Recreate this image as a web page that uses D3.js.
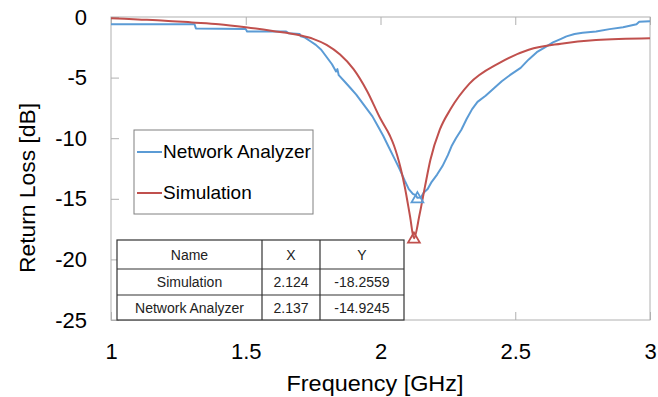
<!DOCTYPE html>
<html>
<head>
<style>
  body { margin: 0; background: #fff; }
  svg { font-family: "Liberation Sans", Arial, sans-serif; }
</style>
</head>
<body>
<svg id="chart" width="658" height="397"></svg>
<script src="https://cdn.jsdelivr.net/npm/d3@7"></script>
<script>
// data
let xTicks = [1, 1.5, 2, 2.5, 3]
let yTicks = [0, -5, -10, -15, -20, -25]

let simFreq = [1.0, 1.1, 1.2, 1.3, 1.4, 1.5, 1.6, 1.7, 1.75, 1.8, 1.85, 1.9, 1.95, 2.0, 2.035, 2.05, 2.075, 2.09, 2.11, 2.124,
  2.145, 2.165, 2.185, 2.22, 2.26, 2.33, 2.44, 2.55, 2.67, 2.8, 3.0]
let simLoss = [-0.1, -0.2, -0.3, -0.45, -0.6, -0.85, -1.15, -1.5, -1.8, -2.3, -3.1, -4.3, -6.1, -8.4, -9.8, -10.6, -12.5, -14, -16.5, -18.26,
  -16.3, -14, -11.8, -9.3, -7.6, -5.5, -3.8, -2.7, -2.2, -1.9, -1.75]

let naFreq = [1.0, 1.31, 1.315, 1.5, 1.505, 1.65, 1.66, 1.70, 1.705, 1.72, 1.74, 1.76, 1.78, 1.80, 1.82, 1.835, 1.84, 1.845, 1.87, 1.89,
  1.91, 1.93, 1.95, 1.97, 1.99, 2.01, 2.03, 2.05, 2.07, 2.09, 2.105, 2.12, 2.13, 2.137, 2.15, 2.16, 2.175, 2.19, 2.21, 2.23,
  2.25, 2.265, 2.28, 2.30, 2.32, 2.34, 2.36, 2.39, 2.42, 2.45, 2.48, 2.52, 2.55, 2.58, 2.61, 2.64, 2.67, 2.69, 2.72, 2.75,
  2.80, 2.85, 2.90, 2.95, 2.96, 3.0]
let naLoss = [-0.6, -0.6, -0.95, -1.0, -1.2, -1.2, -1.35, -1.4, -1.6, -1.7, -2.0, -2.3, -2.7, -3.3, -3.9, -4.5, -4.3, -4.8, -5.4, -5.9,
  -6.4, -7.0, -7.6, -8.2, -9.0, -9.8, -10.7, -11.6, -12.5, -13.5, -14.2, -14.6, -14.7, -14.92, -14.9, -14.5, -14.2, -13.6, -13.0, -12.3,
  -11.4, -10.6, -10.0, -9.3, -8.4, -7.6, -7.0, -6.5, -5.9, -5.3, -4.8, -4.2, -3.5, -2.9, -2.5, -2.1, -1.8, -1.6, -1.4, -1.3,
  -1.2, -1.0, -0.85, -0.6, -0.4, -0.35]

let markerNames = ["Simulation", "Network Analyzer"]
let markerX = [2.124, 2.137]
let markerY = [-18.2559, -14.9245]

let blue = "#5b9bd5"
let red = "#c0504d"

let svg = d3.select("#chart")
let pLeft = 111, pRight = 650, pTop = 17, pBottom = 320

let x = d3.scaleLinear().domain([1, 3]).range([pLeft, pRight])
let y = d3.scaleLinear().domain([0, -25]).range([pTop, pBottom])

// frame
svg.append("rect").attr("x", pLeft).attr("y", pTop).attr("width", pRight - pLeft).attr("height", pBottom - pTop)
  .attr("fill", "none").attr("stroke", "#b0b0b0").attr("stroke-width", 1)

let yAxis = d3.axisLeft(y).tickValues(yTicks).tickSize(-8).tickPadding(24).tickFormat(d => d)
svg.append("g").attr("transform", `translate(${pLeft},0)`).call(yAxis)
  .call(g => g.select(".domain").remove())
  .call(g => g.selectAll("line").attr("stroke", "#b0b0b0"))
  .call(g => g.selectAll("text").attr("font-size", 22).attr("fill", "#000").attr("font-family", "Liberation Sans, Arial"))

let xAxis = d3.axisBottom(x).tickValues(xTicks).tickSize(-8).tickPadding(23).tickFormat(d => d)
svg.append("g").attr("transform", `translate(0,${pBottom})`).call(xAxis)
  .call(g => g.select(".domain").remove())
  .call(g => g.selectAll("line").attr("stroke", "#b0b0b0"))
  .call(g => g.selectAll("text").attr("font-size", 22).attr("fill", "#000").attr("font-family", "Liberation Sans, Arial"))

// top ticks
svg.append("g").attr("transform", `translate(0,${pTop})`).call(d3.axisTop(x).tickValues(xTicks).tickSize(-8).tickFormat(""))
  .call(g => g.select(".domain").remove())
  .call(g => g.selectAll("line").attr("stroke", "#b0b0b0"))

svg.append("text").text("Frequency [GHz]").attr("x", 375).attr("y", 391)
  .attr("text-anchor", "middle").attr("font-size", 22).attr("textLength", 177).attr("lengthAdjust", "spacingAndGlyphs")
svg.append("text").text("Return Loss [dB]").attr("transform", "translate(35,188) rotate(-90)")
  .attr("text-anchor", "middle").attr("font-size", 22).attr("textLength", 170).attr("lengthAdjust", "spacingAndGlyphs")

let line = d3.line().x(d => x(d[0])).y(d => y(d[1]))
let naPts = naFreq.map((f, i) => [f, naLoss[i]])
let simPts = simFreq.map((f, i) => [f, simLoss[i]])

svg.append("path").datum(naPts).attr("d", line).attr("fill", "none")
  .attr("stroke", blue).attr("stroke-width", 2).attr("stroke-linejoin", "round")
svg.append("path").datum(simPts).attr("d", d3.line().x(d => x(d[0])).y(d => y(d[1])).curve(d3.curveMonotoneX)).attr("fill", "none")
  .attr("stroke", red).attr("stroke-width", 2)

// markers
let tri = d3.symbol().type(d3.symbolTriangle).size(60)
svg.selectAll(".mk").data(markerX).enter().append("path")
  .attr("d", tri)
  .attr("transform", (d, i) => `translate(${x(d)},${y(markerY[i]) + 1})`)
  .attr("fill", "none").attr("stroke", (d, i) => i == 0 ? red : blue).attr("stroke-width", 1.8)

// legend
let lg = svg.append("g")
lg.append("rect").attr("x", 134).attr("y", 130).attr("width", 179).attr("height", 84)
  .attr("fill", "#fff").attr("stroke", "#808080")
let legendNames = ["Network Analyzer", "Simulation"]
let legendColors = [blue, red]
legendNames.forEach((n, i) => {
  let ly = 152 + i * 41
  lg.append("line").attr("x1", 137).attr("x2", 162).attr("y1", ly).attr("y2", ly)
    .attr("stroke", legendColors[i]).attr("stroke-width", 2)
  lg.append("text").text(n).attr("x", 163).attr("y", ly + 6).attr("font-size", 19)
})

// marker table
let tbl = svg.append("g")
let colX = [117, 262, 320, 404]
let rowY = [240, 269, 295, 320]
tbl.append("rect").attr("x", colX[0]).attr("y", rowY[0]).attr("width", colX[3] - colX[0]).attr("height", rowY[3] - rowY[0])
  .attr("fill", "#fff").attr("stroke", "#333").attr("stroke-width", 1.2)
colX.slice(1, 3).forEach(cx => tbl.append("line").attr("x1", cx).attr("x2", cx).attr("y1", rowY[0]).attr("y2", rowY[3])
  .attr("stroke", "#333").attr("stroke-width", 1.2))
rowY.slice(1, 3).forEach(ry => tbl.append("line").attr("x1", colX[0]).attr("x2", colX[3]).attr("y1", ry).attr("y2", ry)
  .attr("stroke", "#333").attr("stroke-width", 1.2))
let rows = [["Name", "X", "Y"]].concat(markerNames.map((n, i) => [n, markerX[i].toFixed(3), markerY[i].toFixed(4)]))
rows.forEach((r, ri) => {
  r.forEach((c, ci) => {
    tbl.append("text").text(c)
      .attr("x", (colX[ci] + colX[ci + 1]) / 2).attr("y", (rowY[ri] + rowY[ri + 1]) / 2 + 5)
      .attr("text-anchor", "middle").attr("font-size", 14).attr("fill", "#222")
  })
})
</script>
</body>
</html>
